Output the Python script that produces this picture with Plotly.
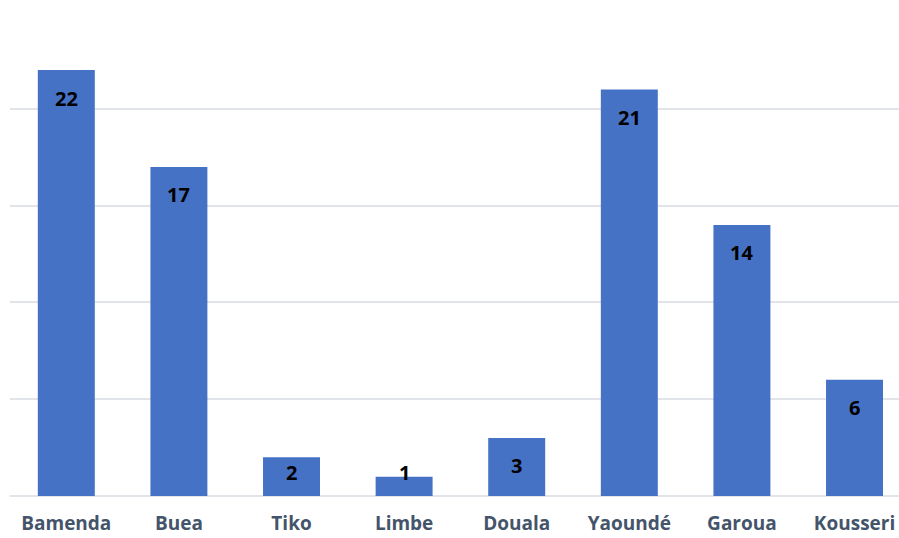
import plotly.graph_objects as go

categories = ["Bamenda", "Buea", "Tiko", "Limbe", "Douala", "Yaoundé", "Garoua", "Kousseri"]
values = [22, 17, 2, 1, 3, 21, 14, 6]

W, H = 899, 538
M_L, M_R, M_T, M_B = 10, 0, 12, 42
Y_MAX = 25
px_per_unit = (H - M_T - M_B) / Y_MAX

fig = go.Figure()
fig.add_trace(go.Bar(
    x=categories, y=values,
    marker=dict(color="#4672C6", line=dict(width=0)),
    width=0.506,
    hoverinfo="x+y",
))

for c, v in zip(categories, values):
    h = v * px_per_unit
    shift = -min(28, h - 24)
    fig.add_annotation(
        x=c, y=v, text=str(v), showarrow=False,
        yanchor="middle", yshift=shift,
        font=dict(family="Open Sans", size=20, color="#000000", weight="bold"),
    )

fig.update_layout(
    width=W, height=H,
    margin=dict(l=M_L, r=M_R, t=M_T, b=M_B, pad=0, autoexpand=False),
    plot_bgcolor="white", paper_bgcolor="white",
    showlegend=False,
    xaxis=dict(
        range=[-0.5, 7.395], showgrid=False, zeroline=False, showline=False,
        ticks="", ticklabelstandoff=14, automargin=False,
        tickfont=dict(family="Open Sans", size=19, color="#44546A", weight="bold"),
    ),
    yaxis=dict(
        range=[0, Y_MAX], dtick=5, showticklabels=False, automargin=False,
        showgrid=True, gridcolor="#E1E4E8", gridwidth=1.5,
        zeroline=True, zerolinecolor="#E1E4E8", zerolinewidth=1.5,
        showline=False, ticks="",
    ),
)

fig.write_html("out.html")
